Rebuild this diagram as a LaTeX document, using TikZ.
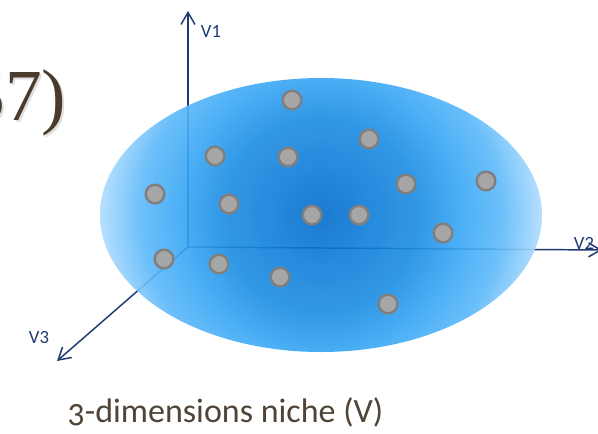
\documentclass[tikz,border=0pt]{standalone}
\usepackage{fontspec}
\newfontfamily\slidefont{Carlito}
\newfontfamily\captionfont[Numbers=OldStyle]{Carlito}
\newfontfamily\titlefont{Liberation Serif}
\usetikzlibrary{arrows.meta, positioning}
\definecolor{AxisNavy}{HTML}{1F3A73}
\definecolor{DotFill}{HTML}{A6A6A6}
\definecolor{DotRim}{HTML}{7F7F7F}
\definecolor{SlideBrown}{HTML}{4F4437}
\definecolor{TitleBrown}{HTML}{4A3B2C}
\definecolor{NicheA}{RGB}{3,108,203}
\definecolor{NicheB}{RGB}{13,123,216}
\definecolor{NicheC}{RGB}{28,142,227}
\definecolor{NicheD}{RGB}{54,165,244}
\definecolor{NicheE}{RGB}{93,185,249}
\definecolor{NicheF}{RGB}{176,220,255}
\pgfdeclareradialshading{nicheglow}{\pgfpoint{0bp}{0bp}}{%
  color(0bp)=(NicheA); color(5bp)=(NicheB); color(11.3bp)=(NicheC);
  color(15.5bp)=(NicheD); color(20.4bp)=(NicheE); color(25bp)=(NicheF);
  color(50bp)=(NicheF)}

\begin{document}
\begin{tikzpicture}[x=0.75pt, y=-0.75pt, >={Straight Barb[length=9pt, width=10.5pt]},
    axis/.style={draw=AxisNavy, line width=1.1pt, ->},
    axislabel/.style={text=AxisNavy, font=\slidefont\fontsize{14}{16}\selectfont},
    sample/.style={circle, draw=DotRim, fill=DotFill, line width=1.8pt,
      minimum size=14pt, inner sep=0pt}]
  \useasboundingbox (0,0) rectangle (598,433);
  \clip (0,0) rectangle (598,433);
  % Title left over from the slide
  \node[anchor=base east, text=gray, text opacity=0.25,
    font=\titlefont\fontsize{55}{62}\selectfont] (titleshadow) at (73,122) {57)};
  \node[anchor=base east, text=TitleBrown,
    font=\titlefont\fontsize{55}{62}\selectfont] (title) at (71,120) {57)};
  % Axes
  \coordinate (O) at (188,247);
  \coordinate (v1) at (188,11);
  \coordinate (v2) at (602,250);
  \coordinate (v3) at (57,361);
  \draw[axis] (O) -- (v1);
  \draw[axis] (O) -- (v2);
  \draw[axis] (O) -- (v3);
  % Niche volume
  \begin{scope}
    \clip (321,215) ellipse [x radius=221, y radius=137];
    \shade[shading=nicheglow, opacity=0.9] (321,215) circle [radius=221];
  \end{scope}
  % Axis names
  \node[axislabel] (v1name) at (211,31) {V1};
  \node[axislabel] (v2name) at (584,243) {V2};
  \node[axislabel] (v3name) at (39,337) {V3};
  % Samples
  \foreach \px/\py [count=\i] in {292/100, 215/156, 288/157, 369/139, 155/194,
      229/204, 312/215, 359/215, 406/184, 486/181, 443/233, 164/259,
      219/264, 280/277, 388/304}
    \node[sample] (s\i) at (\px,\py) {};
  % Caption
  \node[anchor=base west, text=SlideBrown,
    font=\captionfont\fontsize{25.5}{30}\selectfont] (caption) at (63,422)
    {3-dimensions niche (V)};
\end{tikzpicture}
\end{document}
